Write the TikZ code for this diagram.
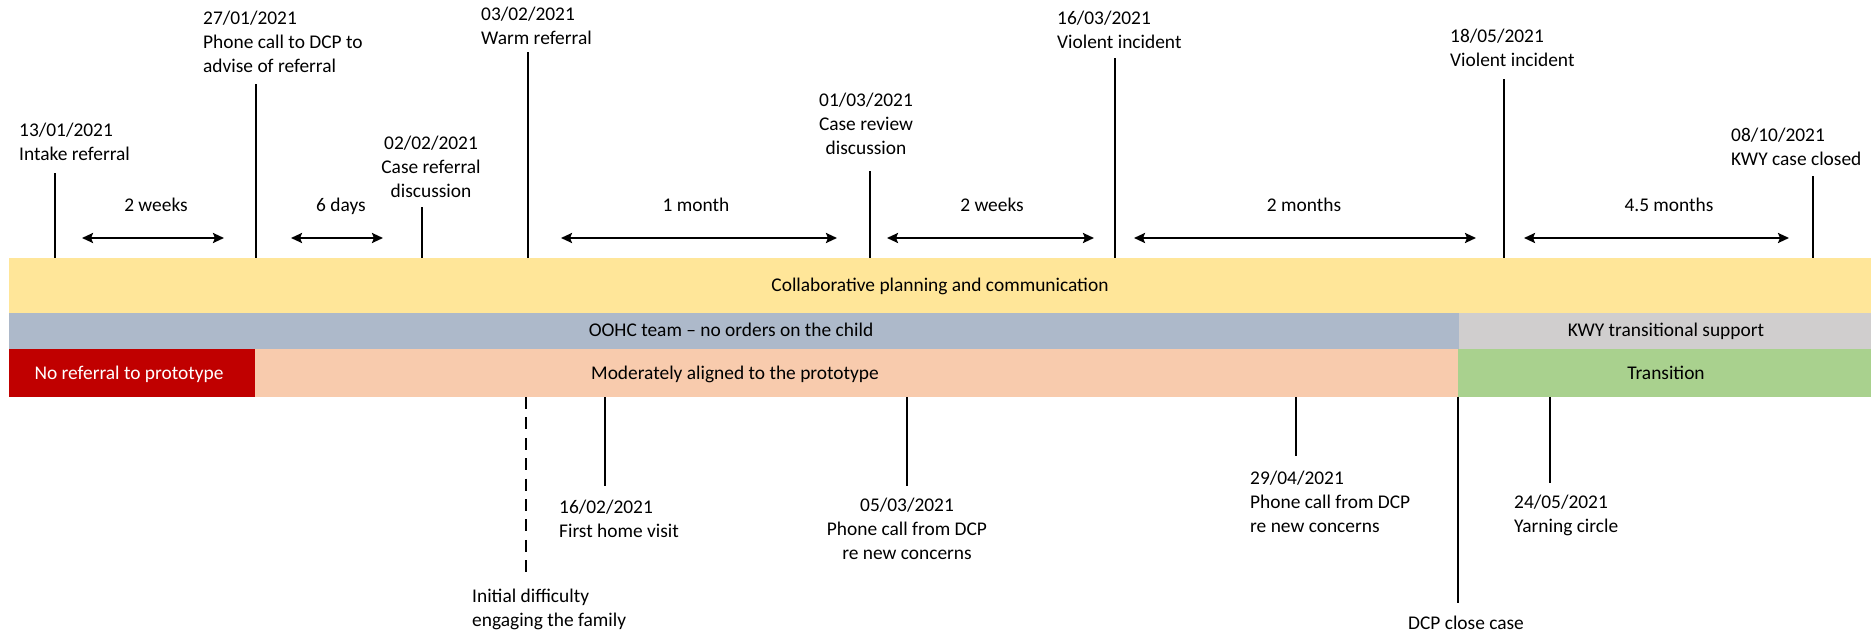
\documentclass[tikz,border=0pt]{standalone}
\usepackage{fontspec}
\setmainfont{Carlito}
\usetikzlibrary{arrows.meta}
\newcommand\tllines[2]{\begin{tabular}[t]{@{}#1@{}}#2\end{tabular}}
\definecolor{planfill}{HTML}{FFE699}
\definecolor{teamfill}{HTML}{ADB9CA}
\definecolor{kwyfill}{HTML}{D0CECE}
\definecolor{norefill}{HTML}{C00000}
\definecolor{alignfill}{HTML}{F8CBAD}
\definecolor{transfill}{HTML}{A9D18E}
\begin{document}
\begin{tikzpicture}[x=1pt,y=-1pt,
  band/.style={rectangle, draw=none, inner sep=0pt, anchor=north west},
  lbl/.style={inner sep=0pt, font=\fontsize{19.4}{24}\selectfont},
  tick/.style={line width=2pt},
  dashtick/.style={line width=2pt, dash pattern=on 12pt off 8.4pt},
  span/.style={line width=2.4pt,
    {Stealth[length=11pt,width=10pt,inset=2pt]}-{Stealth[length=11pt,width=10pt,inset=2pt]}}]
\useasboundingbox (0,0) rectangle (1872,636);

% --- horizontal bands ---
\node[band, fill=planfill, minimum width=1862pt, minimum height=55pt] (plan) at (9,258) {};
\node[band, fill=teamfill, minimum width=1450pt, minimum height=36pt] (team) at (9,313) {};
\node[band, fill=kwyfill, minimum width=412pt, minimum height=36pt] (kwy) at (1459,313) {};
\node[band, fill=norefill, minimum width=246pt, minimum height=48pt] (noref) at (9,349) {};
\node[band, fill=alignfill, minimum width=1203pt, minimum height=48pt] (aligned) at (255,349) {};
\node[band, fill=transfill, minimum width=413pt, minimum height=48pt] (trans) at (1458,349) {};

\node[lbl, anchor=base] (plantxt) at (940,292) {Collaborative planning and communication};
\node[lbl, anchor=base] (teamtxt) at (731,337) {OOHC team – no orders on the child};
\node[lbl, anchor=base] (kwytxt) at (1666,337) {KWY transitional support};
\node[lbl, anchor=base, text=white] (noreftxt) at (129,379) {No referral to prototype};
\node[lbl, anchor=base] (alignedtxt) at (735,379) {Moderately aligned to the prototype};
\node[lbl, anchor=base] (transtxt) at (1666,379) {Transition};

% --- events above the bands ---
\foreach \n/\x/\t in {a/55/173, b/256/84, c/422/207, d/528/52, e/870/171, f/1115/58, g/1504/79, h/1813/176} {
  \coordinate (\n0) at (\x,258);
  \coordinate (\n1) at (\x,\t);
  \draw[tick] (\n0) -- (\n1);
}
\node[lbl, anchor=base west] (ea) at (19,137) {\tllines{l}{13/01/2021\\Intake referral}};
\node[lbl, anchor=base west] (eb) at (203,25) {\tllines{l}{27/01/2021\\Phone call to DCP to\\advise of referral}};
\node[lbl, anchor=base] (ec) at (431,150) {\tllines{c}{02/02/2021\\Case referral\\discussion}};
\node[lbl, anchor=base west] (ed) at (481,21) {\tllines{l}{03/02/2021\\Warm referral}};
\node[lbl, anchor=base] (ee) at (866,107) {\tllines{c}{01/03/2021\\Case review\\discussion}};
\node[lbl, anchor=base west] (ef) at (1057,25) {\tllines{l}{16/03/2021\\Violent incident}};
\node[lbl, anchor=base west] (eg) at (1450,43) {\tllines{l}{18/05/2021\\Violent incident}};
\node[lbl, anchor=base west] (eh) at (1731,142) {\tllines{l}{08/10/2021\\KWY case closed}};

% --- intervals ---
\foreach \n/\xa/\xb/\xm/\t in {p/82/224/156/2 weeks, q/291/383/341/6 days, r/561/837/696/1 month,
  s/887/1094/992/2 weeks, u/1134/1476/1304/2 months, v/1524/1789/1669/4.5 months} {
  \coordinate (\n0) at (\xa,238);
  \coordinate (\n1) at (\xb,238);
  \draw[span] (\n0) -- (\n1);
  \node[lbl, anchor=base] (\n t) at (\xm,212) {\t};
}

% --- events below the bands ---
\coordinate (k0) at (526,397); \coordinate (k1) at (526,572);
\draw[dashtick] (k0) -- (k1);
\foreach \n/\x/\t in {m/605/486, n/907/486, o/1296/456, w/1458/603, z/1550/483} {
  \coordinate (\n0) at (\x,397);
  \coordinate (\n1) at (\x,\t);
  \draw[tick] (\n0) -- (\n1);
}
\node[lbl, anchor=base west] (ek) at (472,602) {\tllines{l}{Initial difficulty\\engaging the family}};
\node[lbl, anchor=base west] (em) at (559,513) {\tllines{l}{16/02/2021\\First home visit}};
\node[lbl, anchor=base] (en) at (907,511) {\tllines{c}{05/03/2021\\Phone call from DCP\\re new concerns}};
\node[lbl, anchor=base west] (eo) at (1250,484) {\tllines{l}{29/04/2021\\Phone call from DCP\\re new concerns}};
\node[lbl, anchor=base] (ew) at (1466,629) {DCP close case};
\node[lbl, anchor=base west] (ez) at (1514,508) {\tllines{l}{24/05/2021\\Yarning circle}};
\end{tikzpicture}
\end{document}
